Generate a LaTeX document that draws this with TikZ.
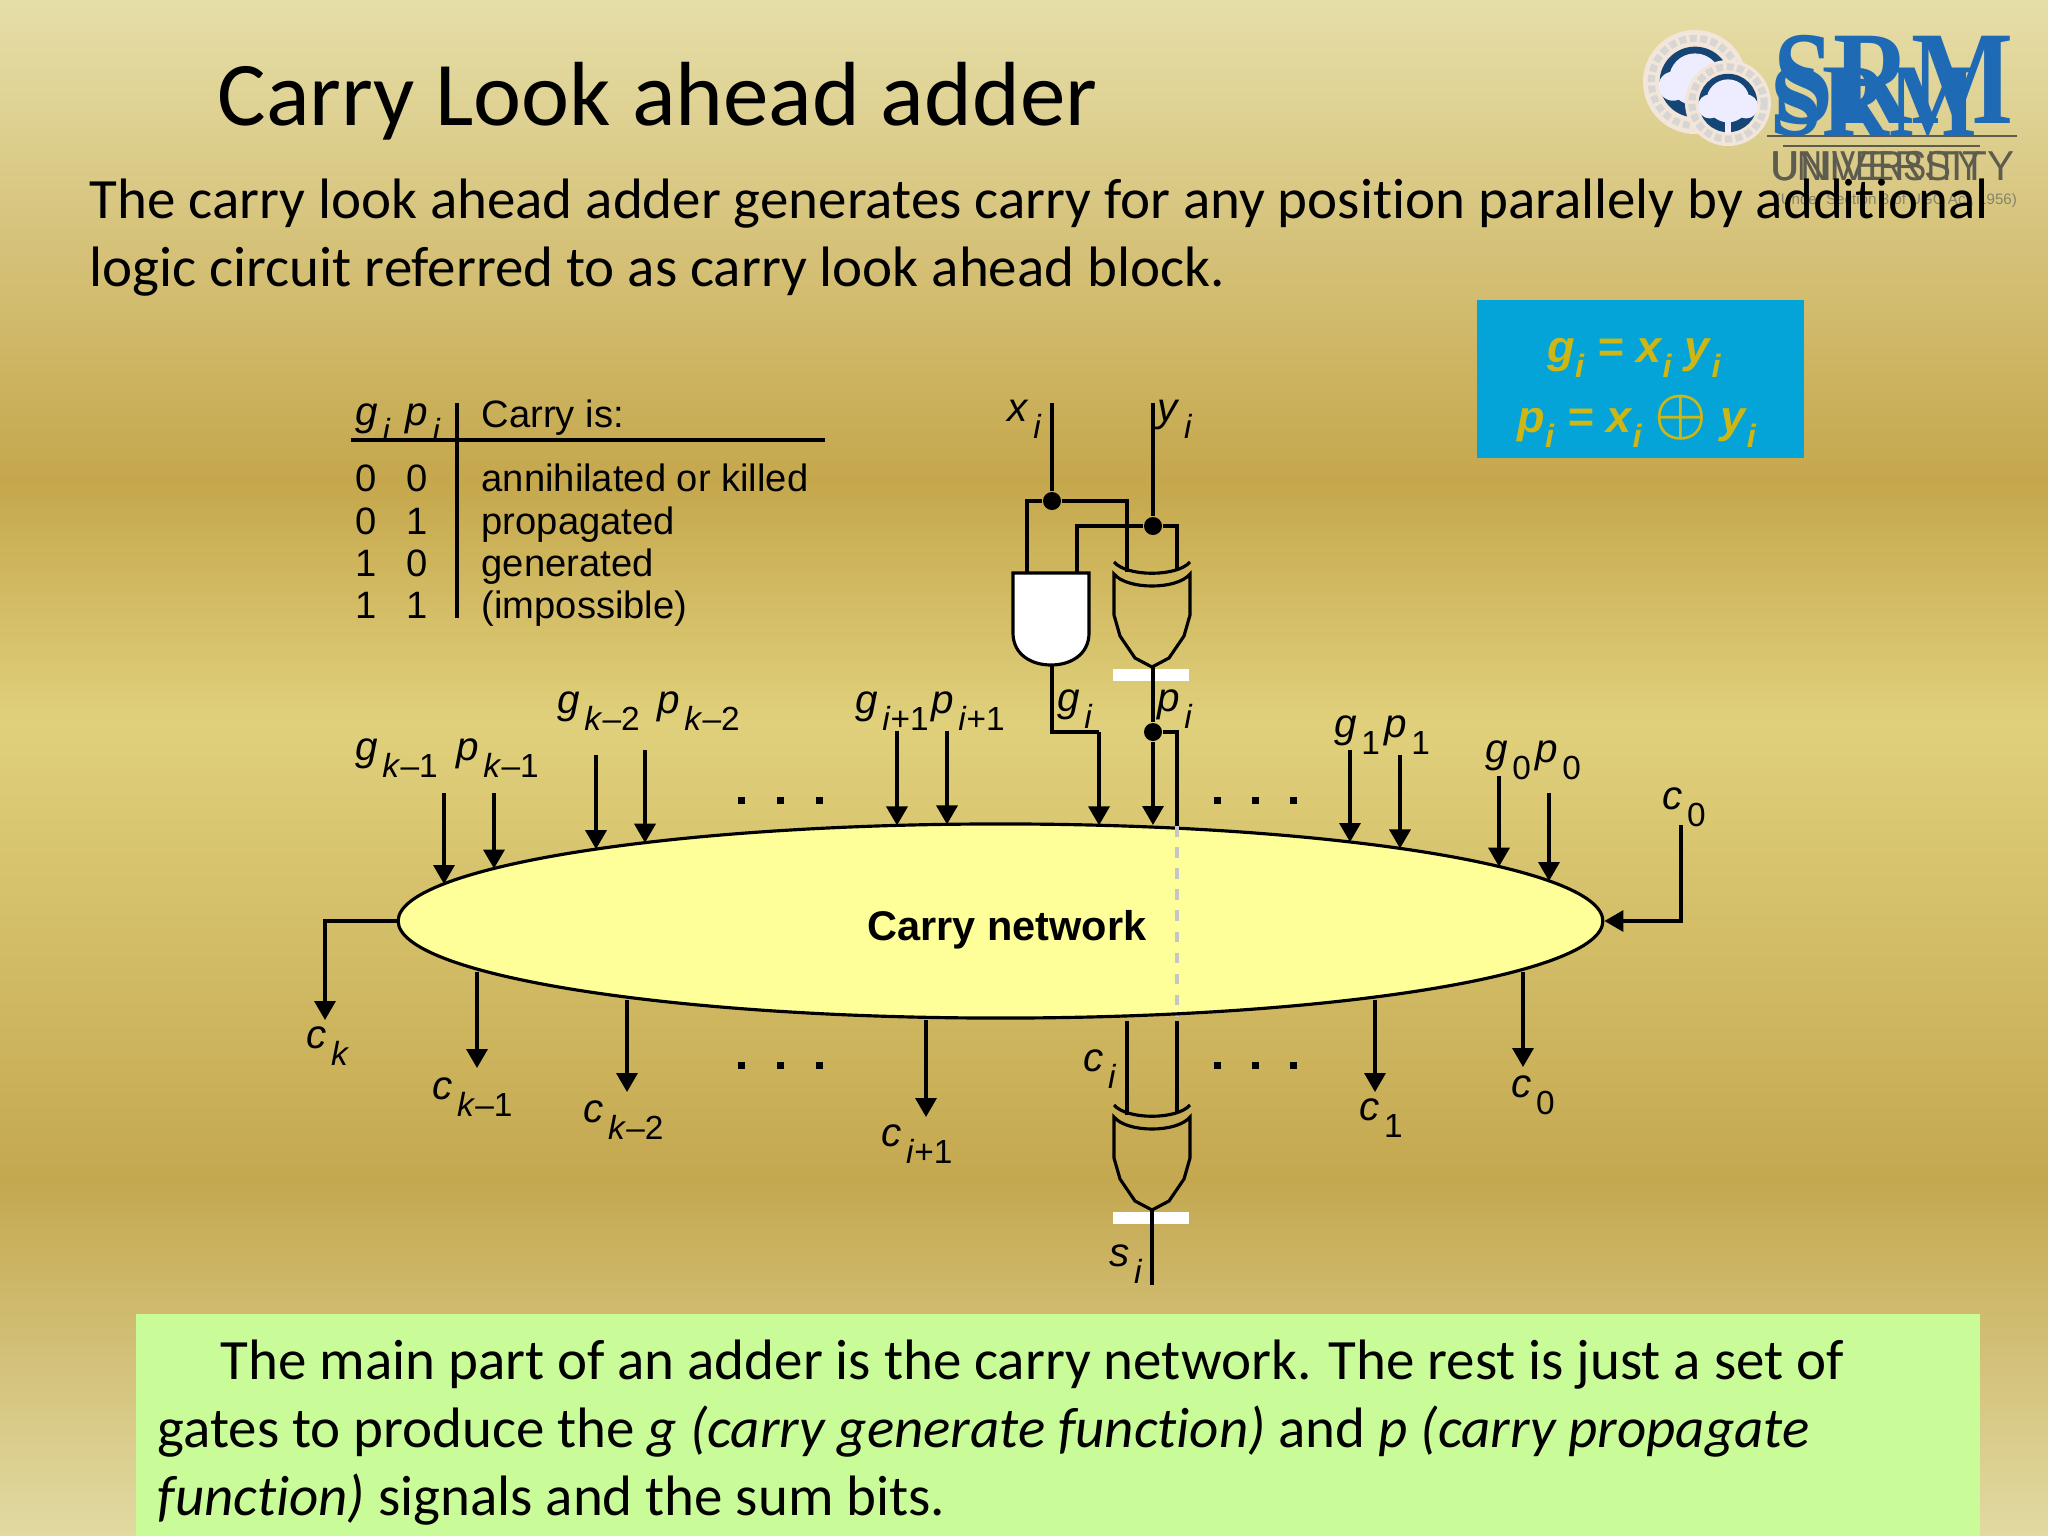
\documentclass[tikz,border=0pt]{standalone}
\usepackage{fontspec}
\setmainfont{Carlito}[Ligatures=CommonOff]
\newfontfamily\arialfont{Liberation Sans}
\newfontfamily\timesfont{Liberation Serif}
\usetikzlibrary{arrows.meta,shapes.geometric}

\definecolor{srmblue}{HTML}{1F6AB4}
\definecolor{srmgray}{HTML}{5E5C4E}
\definecolor{boxblue}{HTML}{04A4D8}
\definecolor{boxgold}{HTML}{CEB715}
\definecolor{boxgreen}{HTML}{C9FB98}
\definecolor{netyellow}{HTML}{FFFF99}
\definecolor{bga}{HTML}{E6DEA8}
\definecolor{bgb}{HTML}{C5A74C}
\definecolor{bgc}{HTML}{E0D07C}
\definecolor{bgd}{HTML}{C4A850}
\definecolor{bge}{HTML}{E2DAA2}

\newcommand{\siglbl}[2]{{\arialfont\fontsize{11.5}{13}\selectfont\textit{#1}\kern1.2pt\raisebox{-5pt}{\fontsize{9.5}{12}\selectfont #2}}}
\newcommand{\boxlbl}[2]{\textbf{\textit{#1}}\raisebox{-4.5pt}{\fontsize{9.2}{11}\selectfont\textbf{\textit{#2}}}}

\tikzset{
	wire/.style={line width=0.9pt},
	sigarrow/.style={wire,-{Triangle[length=5.4pt,width=6pt]}},
	siglabel/.style={anchor=base west,inner sep=0pt,yshift=0.01cm},
	tabtext/.style={anchor=base west,inner sep=0pt,font=\arialfont\fontsize{10.85}{13}\selectfont},
	bodytext/.style={anchor=base west,inner sep=0pt,font=\fontsize{16.2}{20}\selectfont},
	eqtext/.style={anchor=base west,inner sep=0pt,text=boxgold,font=\arialfont\fontsize{12.8}{15}\selectfont},
	dotjoin/.style={circle,fill,inner sep=0pt,minimum size=0.18cm},
	xorgate/.pic={
		\draw[wire] (-38,0) .. controls (-25,15) and (25,15) .. (38,0);
		\draw[wire] (-38,12) .. controls (-25,28) and (25,28) .. (38,12) -- (38,53) -- (32,74) -- (17,96) -- (0,105) -- (-17,96) -- (-32,74) -- (-38,53) -- cycle;
		\fill[white] (-39,107) rectangle (37,119);
	},
	seal/.pic={
		\begin{scope}[scale=#1]
		\fill[white!80!brown] (0,0) circle(1);
		\draw[srmgray!25,densely dotted,line width=2pt] (0,0) circle(.84);
		\fill[srmblue!65!black] (0,0) circle(.68);
		\fill[white!93!blue] (0,-.05) circle(.5);
		\fill[white!93!blue] (-.42,.08) circle(.28);
		\fill[white!93!blue] (.42,.08) circle(.28);
		\fill[white!93!blue] (-.06,.3) rectangle (.06,.72);
		\end{scope}
	}
}

\begin{document}
\begin{tikzpicture}[x=0.01cm,y=-0.01cm]
\useasboundingbox (0,0) rectangle (2048,1536);
\shade[top color=bga,bottom color=bgb] (0,0) rectangle (2048,482);
\shade[top color=bgb,bottom color=bgc] (0,480) rectangle (2048,722);
\shade[top color=bgc,bottom color=bgd] (0,720) rectangle (2048,1182);
\shade[top color=bgd,bottom color=bge] (0,1180) rectangle (2048,1536);

%%%%%%%%%%% logo
\pic at (1695,82) {seal=52};
\pic at (1728,103) {seal=43};
\node[anchor=base west,inner sep=0pt,text=srmblue,transform shape,xscale=.81] (srmback) at (1773,123) {\timesfont\bfseries\fontsize{37.9}{40}\selectfont SRM};
\node[anchor=base west,inner sep=0pt,text=srmblue,transform shape,xscale=.9] (srmfront) at (1770,135) {\timesfont\bfseries\fontsize{29.3}{32}\selectfont SRM};
\draw[srmgray,thin] (1767,136) -- (2017,136);
\draw[srmgray,thin] (1783,146) -- (1980,146);
\node[anchor=base west,inner sep=0pt,text=srmgray,transform shape,xscale=.97] (uniback) at (1770,180) {\arialfont\fontsize{11.9}{14}\selectfont UNIVERSITY};
\node[anchor=base west,inner sep=0pt,text=srmgray,transform shape,xscale=.83] (unifront) at (1772,180) {\arialfont\fontsize{11.9}{14}\selectfont UNIVERSITY};
\node[anchor=base west,inner sep=0pt,text=srmgray!70!bga] (unitag) at (1775,204) {\arialfont\fontsize{4.3}{6}\selectfont (Under Section 3 of UGC Act, 1956)};

%%%%%%%%%%% texte du haut
\node[anchor=base west,inner sep=0pt] (title) at (217,125) {\fontsize{25.9}{30}\selectfont Carry Look ahead adder};
\node[bodytext] (introa) at (89,218) {The carry look ahead adder generates carry for any position parallely by additional};
\node[bodytext] (introb) at (89,286) {logic circuit referred to as carry look ahead block.};

\fill[boxblue] (1477,300) rectangle (1804,458);
\node[eqtext] (eqg) at (1547,362) {\boxlbl{g}{i} \textbf{\textit{=}} \boxlbl{x}{i} \boxlbl{y}{i}};
\node[eqtext] (eqp) at (1517,432) {\boxlbl{p}{i} \textbf{\textit{=}} \boxlbl{x}{i} \scalebox{1.4}{\boldmath$\oplus$} \boxlbl{y}{i}};

%%%%%%%%%%% table
\node[siglabel] (thg) at (355,426) {\siglbl{g}{\textit{i}}};
\node[siglabel] (thp) at (405,426) {\siglbl{p}{\textit{i}}};
\node[tabtext] (thc) at (481,427) {Carry is:};
\foreach \n/\y/\a/\b/\t in {0/491/0/0/annihilated or killed,1/534/0/1/propagated,2/576/1/0/generated,3/618/1/1/(impossible)}{
	\node[tabtext] (tga\n) at (355,\y) {\a};
	\node[tabtext] (tpa\n) at (406,\y) {\b};
	\node[tabtext] (tca\n) at (481,\y) {\t};
}
\coordinate (tabtop) at (457,403);
\coordinate (tabbot) at (457,618);
\coordinate (tabl) at (351,440);
\coordinate (tabr) at (825,440);
\draw[wire] (tabtop) -- (tabbot);
\draw[wire] (tabl) -- (tabr);

%%%%%%%%%%% carry network
\node[draw,wire,ellipse,fill=netyellow,inner sep=0pt,minimum width=12.04cm,minimum height=1.94cm] (carry) at (1000.5,921) {};
\node[inner sep=0pt] (carrytxt) at (1007,930) {\arialfont\bfseries\fontsize{11.8}{14}\selectfont Carry network};

% ---------------    entrees
\foreach \n/\x/\y in {gka/444/793,pka/494/793,gkb/596/755,pkb/645/750,gia/897/731,pia/947/731,gb/1350/750,pb/1400/755,gz/1499/776,pz/1549/793}{
	\pgfmathsetmacro\yrim{921-97*sqrt(1-((\x-1000.5)/602)^2)}
	\coordinate (\n top) at (\x,\y);
	\coordinate (\n rim) at (\x,\yrim);
	\draw[sigarrow] (\n top) -- (\n rim);
}
% ---------------    sorties
\foreach \n/\x/\y in {cka/477/1068,ckb/627/1092,cia/926/1117,cb/1375/1092,cz/1523/1067}{
	\pgfmathsetmacro\yrim{921+97*sqrt(1-((\x-1000.5)/602)^2)+3}
	\coordinate (\n rim) at (\x,\yrim);
	\coordinate (\n end) at (\x,\y);
	\draw[sigarrow] (\n rim) -- (\n end);
}
\coordinate (ckend) at (325,1020);
\draw[sigarrow] (carry.west) -| (ckend);
\coordinate (czin) at (1681,825);
\draw[sigarrow] (czin) |- (carry.east);

\foreach \x in {741,780,819,1217,1255,1293}{
	\fill (\x-3.5,797) rectangle +(7,7);
	\fill (\x-3.5,1062) rectangle +(7,7);
}

%%%%%%%%%%% labels
\node[siglabel] (lgka) at (355,761) {\siglbl{g}{\textit{k}–1}};
\node[siglabel] (lpka) at (456,761) {\siglbl{p}{\textit{k}–1}};
\node[siglabel] (lgkb) at (557,714) {\siglbl{g}{\textit{k}–2}};
\node[siglabel] (lpkb) at (657,714) {\siglbl{p}{\textit{k}–2}};
\node[siglabel] (lgia) at (855,714) {\siglbl{g}{\textit{i}+1}};
\node[siglabel] (lpia) at (931,714) {\siglbl{p}{\textit{i}+1}};
\node[siglabel] (lgi) at (1057,712) {\siglbl{g}{\textit{i}}};
\node[siglabel] (lpi) at (1157,712) {\siglbl{p}{\textit{i}}};
\node[siglabel] (lgb) at (1334,738) {\siglbl{g}{1}};
\node[siglabel] (lpb) at (1384,738) {\siglbl{p}{1}};
\node[siglabel] (lgz) at (1485,763) {\siglbl{g}{0}};
\node[siglabel] (lpz) at (1535,763) {\siglbl{p}{0}};
\node[siglabel] (lczt) at (1662,810) {\siglbl{c}{0}};
\node[siglabel] (lxi) at (1007,422) {\siglbl{x}{\textit{i}}};
\node[siglabel] (lyi) at (1157,422) {\siglbl{y}{\textit{i}}};
\node[siglabel] (lck) at (306,1049) {\siglbl{c}{\textit{k}}};
\node[siglabel] (lcka) at (432,1100) {\siglbl{c}{\textit{k}–1}};
\node[siglabel] (lckb) at (583,1123) {\siglbl{c}{\textit{k}–2}};
\node[siglabel] (lcia) at (881,1147) {\siglbl{c}{\textit{i}+1}};
\node[siglabel] (lci) at (1083,1072) {\siglbl{c}{\textit{i}}};
\node[siglabel] (lcb) at (1359,1121) {\siglbl{c}{1}};
\node[siglabel] (lcz) at (1511,1098) {\siglbl{c}{0}};
\node[siglabel] (lsi) at (1109,1267) {\siglbl{s}{\textit{i}}};

%%%%%%%%%%% portes
\draw[wire,fill=white] (1013,573) -- (1089,573) -- (1089,633) .. controls (1089,655) and (1070,665) .. (1051,665) .. controls (1032,665) and (1013,655) .. (1013,633) -- cycle;
\pic at (1152,562) {xorgate};
\pic at (1152,1105) {xorgate};

% ---------------    x, y
\coordinate (xtop) at (1052,403);
\node[dotjoin] (xdot) at (1052,501) {};
\coordinate (xand) at (1027,573);
\coordinate (xxor) at (1127,572);
\draw[wire] (xtop) -- (xdot);
\draw[wire] (xand) |- (xdot) -| (xxor);
\coordinate (ytop) at (1153,403);
\node[dotjoin] (ydot) at (1153,526) {};
\coordinate (yand) at (1077,573);
\coordinate (yxor) at (1177,570);
\draw[wire] (ytop) -- (ydot);
\draw[wire] (yand) |- (ydot) -| (yxor);

% ---------------    g, p
\coordinate (gout) at (1052,665);
\coordinate (gbend) at (1052,732);
\coordinate (gturn) at (1099,732);
\pgfmathsetmacro\yrim{921-97*sqrt(1-((1099-1000.5)/602)^2)}
\coordinate (grim) at (1099,\yrim);
\draw[wire] (gout) -- (gbend) -- (gturn);
\draw[sigarrow] (gturn) -- (grim);
\coordinate (pout) at (1153,667);
\node[dotjoin] (pdot) at (1153,732) {};
\coordinate (prim) at (1153,825);
\draw[wire] (pout) -- (pdot);
\draw[sigarrow] (pdot) -- (prim);
\coordinate (psum) at (1177,826);
\coordinate (psumb) at (1177,1017);
\coordinate (psumc) at (1177,1021);
\coordinate (psumd) at (1177,1113);
\draw[wire] (pdot) -| (psum);
\draw[line width=1pt,gray!45,dash pattern=on 3pt off 3pt] (psum) -- (psumb);
\draw[wire] (psumc) -- (psumd);

% ---------------    c, s
\coordinate (citop) at (1127,1021);
\coordinate (cixor) at (1127,1115);
\draw[wire] (citop) -- (cixor);
\coordinate (sout) at (1152,1210);
\coordinate (send) at (1152,1285);
\draw[wire] (sout) -- (send);

%%%%%%%%%%% texte du bas
\fill[boxgreen] (136,1314) rectangle (1980,1536);
\node[bodytext] (suma) at (220,1379) {The main part of an adder is the carry network. The rest is just a set of};
\node[bodytext] (sumb) at (157,1447) {gates to produce the \textit{g (carry generate function)} and \textit{p (carry propagate}};
\node[bodytext] (sumc) at (157,1515) {\textit{function)} signals and the sum bits.};
\end{tikzpicture}
\end{document}
